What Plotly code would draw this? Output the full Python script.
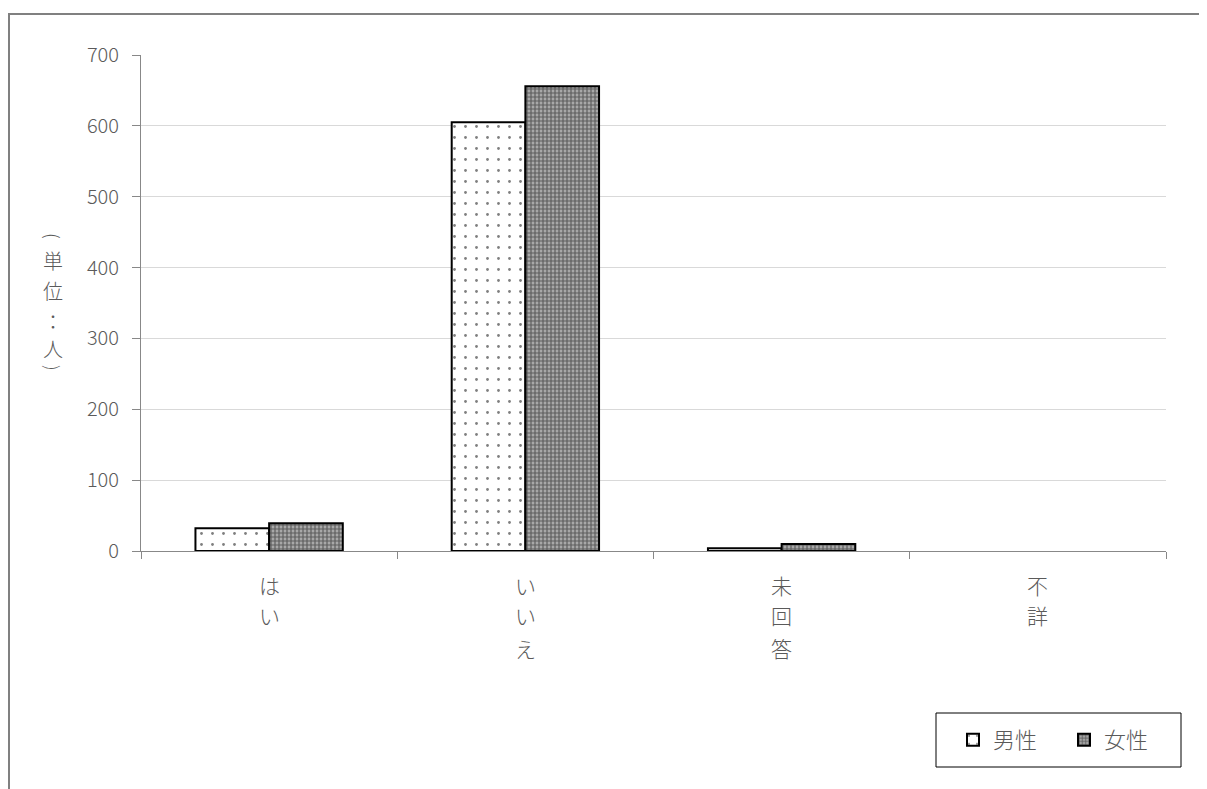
import plotly.graph_objects as go

# categories (drawn vertically, one character per line)
categories = ["はい", "いいえ", "未回答", "不詳"]
male = [32, 605, 4, 0]
female = [39, 656, 10, 0]
y_title_chars = ["(", "単", "位", "：", "人", ")"]

font_family = "Noto Sans CJK JP"
grey_text = "#5a5a5a"

# the page adds an 8px body margin, so work in screen pixels and shift
OFF = 8
W, H = 1207, 789
L, R, T, B = 141 - OFF, 1166 - OFF, 55 - OFF, 551 - OFF


def px_y(y):
    return (B - (y - OFF)) / (B - T)


def px_x(x):
    return ((x - OFF) - L) / (R - L)


fig = go.Figure()

fig.add_trace(go.Bar(
    x=categories, y=male, name="男性",
    marker=dict(
        color="white",
        line=dict(color="black", width=[2, 2, 2, 0]),
        pattern=dict(shape=".", fgcolor="black", bgcolor="white", size=11, solidity=0.05),
    ),
))
fig.add_trace(go.Bar(
    x=categories, y=female, name="女性",
    marker=dict(
        color="#808080",
        line=dict(color="black", width=[2, 2, 2, 0]),
        pattern=dict(shape="+", fgcolor="#111111", bgcolor="#a8a8a8", size=4, solidity=0.5),
    ),
))

fig.update_layout(
    width=W, height=H,
    margin=dict(l=L, r=W - R, t=T, b=H - B, autoexpand=False),
    paper_bgcolor="white", plot_bgcolor="white",
    barmode="group", bargap=0.425, bargroupgap=0,
    font=dict(family=font_family, size=18, color=grey_text),
    showlegend=True,
    legend=dict(
        orientation="h", x=px_x(953), y=px_y(740), xanchor="left", yanchor="middle",
        borderwidth=0, bgcolor="rgba(0,0,0,0)",
        font=dict(size=22, color=grey_text, weight=300),
        entrywidth=66, entrywidthmode="pixels", itemwidth=30,
    ),
)

fig.update_xaxes(
    tickvals=categories, showticklabels=False,
    showline=True, linecolor="#888888", linewidth=1,
    ticks="outside", tickson="boundaries", ticklen=7, tickcolor="#888888",
    showgrid=False,
)
fig.update_yaxes(
    range=[0, 700], dtick=100,
    showline=True, linecolor="#888888", linewidth=1,
    ticks="outside", ticklen=8, tickcolor="#888888",
    ticklabelstandoff=9,
    showgrid=True, gridcolor="#d9d9d9", gridwidth=1,
    zeroline=False,
    tickfont=dict(size=20, color=grey_text, weight=300),
)

# category labels, written vertically
label_rows = [585, 615, 648]
for cat in categories:
    for i, ch in enumerate(cat):
        fig.add_annotation(
            text=ch, xref="x", yref="paper", x=cat, y=px_y(label_rows[i]),
            showarrow=False, font=dict(size=21, color=grey_text, weight=300),
            xanchor="center", yanchor="middle",
        )

# y axis title, written vertically (brackets turned to sit on their side)
title_rows = [236, 261, 290, 321, 348, 368]
for ch, yy in zip(y_title_chars, title_rows):
    rotate = 90 if ch in "()" else 0
    fig.add_annotation(
        text=ch, xref="paper", yref="paper", x=px_x(53), y=px_y(yy),
        showarrow=False, font=dict(size=18 if rotate else 20, color=grey_text, weight=300),
        textangle=rotate, xanchor="center", yanchor="middle",
    )

# legend box
fig.add_shape(
    type="rect", xref="paper", yref="paper",
    x0=px_x(936), y0=px_y(767), x1=px_x(1181), y1=px_y(713),
    line=dict(color="black", width=1), layer="below",
)

# outer chart frame
fig.add_shape(
    type="rect", xref="paper", yref="paper",
    x0=px_x(9), y0=px_y(820), x1=px_x(1230), y1=px_y(14),
    line=dict(color="#808080", width=2), layer="below",
)

fig.write_html("out.html")
